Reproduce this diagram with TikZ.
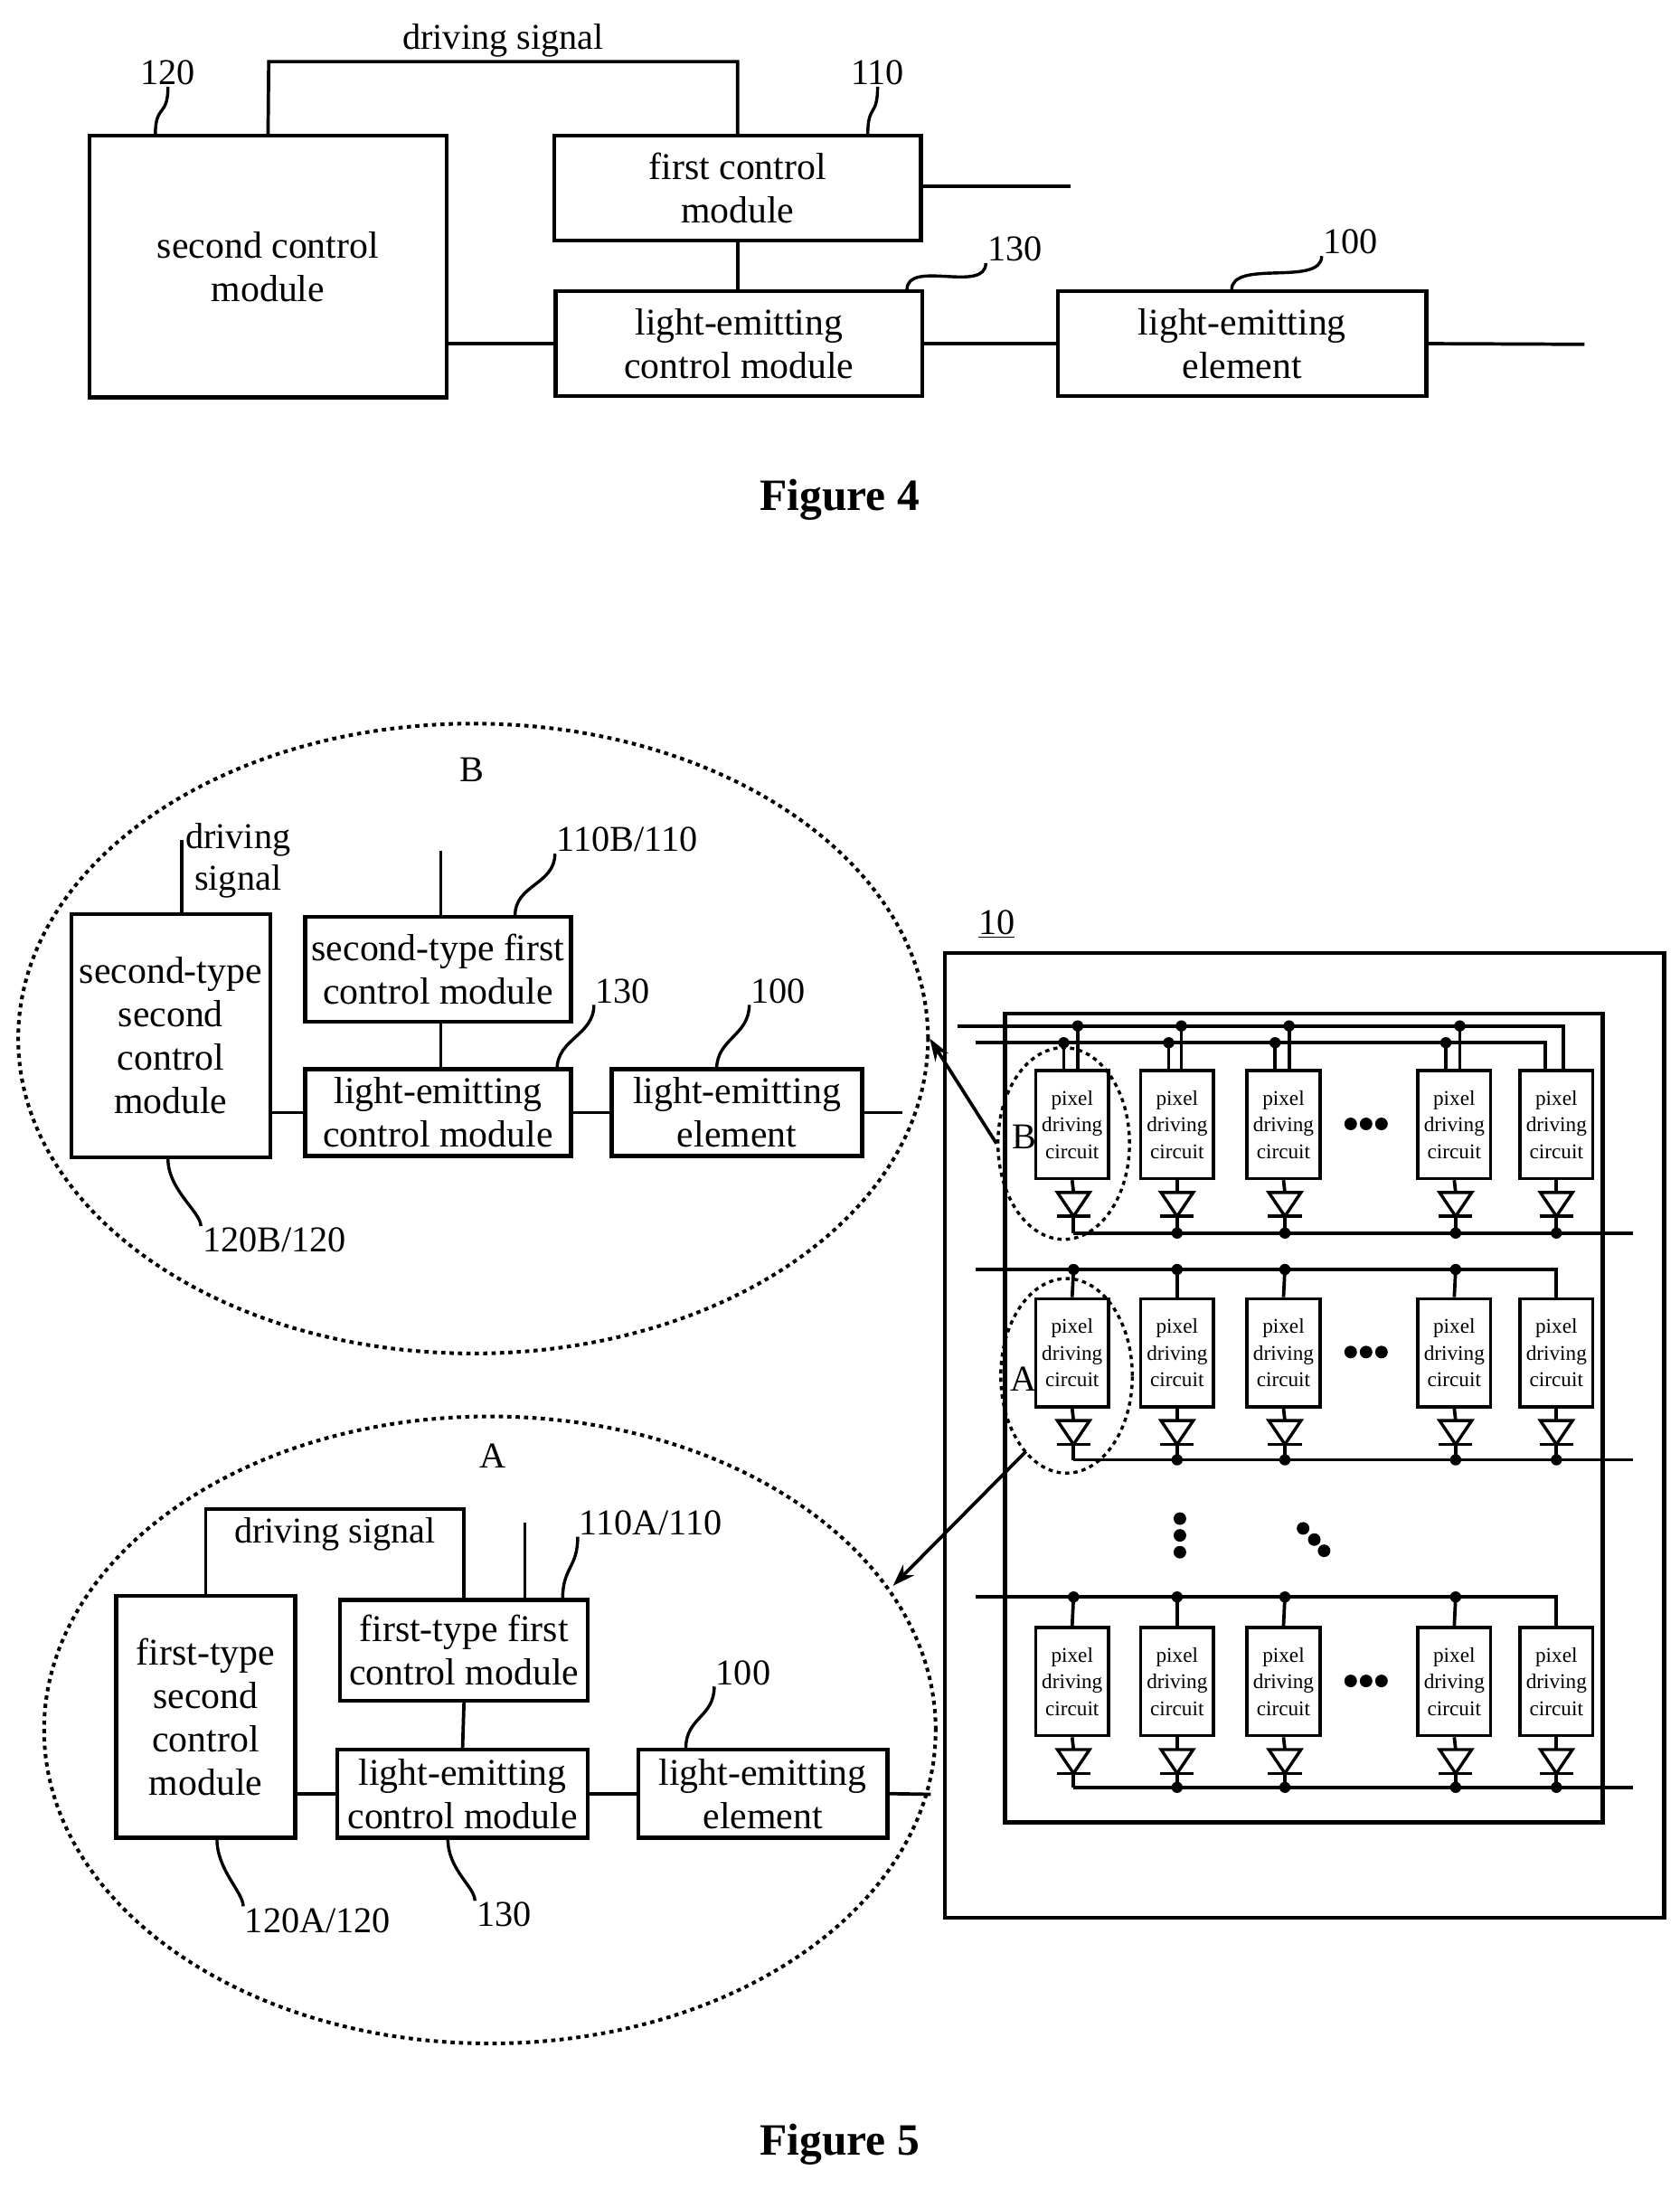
\documentclass[tikz,border=0pt]{standalone}
\usepackage{fontspec}
\setmainfont{Liberation Serif}
\usetikzlibrary{arrows.meta,positioning,shapes.geometric}
\tikzset{
  blk/.style={draw,line width=2.8pt,align=center,inner sep=0pt,font=\fontsize{27}{31}\selectfont},
  pdc/.style={draw,line width=2.4pt,align=center,inner sep=0pt,minimum width=52pt,minimum height=77pt,font=\fontsize{15}{19}\selectfont},
  wire/.style={line width=2.4pt},
  lead/.style={line width=2.2pt},
  tag/.style={font=\fontsize{26}{30}\selectfont,inner sep=1pt},
  zone/.style={draw,line width=2.6pt,dash pattern=on 3pt off 3pt},
  dot/.style={circle,fill,inner sep=0pt,minimum size=8pt},
}
% S-shaped leader from a box corner up to its reference number
\newcommand\leadto[2]{\draw[lead] (#1) .. controls +(0,-22) and +(0,22) .. (#2);}
\newcommand\diodeat[2]{%
  \draw[line width=2.2pt] (#1-11.5,#2) -- (#1+11.5,#2) -- (#1,#2+17) -- cycle;
  \draw[line width=2.2pt] (#1-12,#2+17) -- (#1+12,#2+17);}
\begin{document}
\begin{tikzpicture}[x=1pt,y=-1pt]
\useasboundingbox (0,0) rectangle (1200,1564);

% ---- Figure 4
\node[blk,minimum width=255,minimum height=187] (sc) at (191.5,190.5) {second control\\module};
\node[blk,minimum width=262,minimum height=75] (fc) at (527,134.5) {first control\\module};
\node[blk,minimum width=262,minimum height=75] (lc) at (528,245.5) {light-emitting\\control module};
\node[blk,minimum width=263,minimum height=75] (le) at (887.5,245.5) {light-emitting\\element};
\coordinate (fcout) at (765,133);
\coordinate (leout) at (1132,246);
\draw[wire] (sc.north) -- (192,44) -| node[pos=0.25,above=1pt,tag]{driving signal} (fc.north);
\draw[wire] (fc.east |- fcout) -- (fcout);
\draw[wire] (fc.south) -- (lc.north -| fc.south);
\draw[wire] (sc.east |- lc.west) -- (lc.west);
\draw[wire] (lc.east) -- (le.west);
\draw[wire] (le.east) -- (leout);
\node[tag] (n120) at (120,52) {120};
\node[tag] (n110) at (627,52) {110};
\node[tag] (n130) at (725,178) {130};
\node[tag] (n100) at (965,173) {100};
\leadto{111,96}{n120.south}
\leadto{620,96}{n110.south}
\leadto{648,207}{n130.south west}
\leadto{880,207}{n100.south west}
\node[font=\bfseries\fontsize{32}{36}\selectfont] (f4) at (600,357) {Figure 4};

% ---- Figure 5, detail B
\node[zone,ellipse,minimum width=650,minimum height=450] (eB) at (338,742) {};
\node[tag] (tB) at (337,550) {B};
\node[blk,minimum width=142,minimum height=174] (scB) at (122,740) {second-type\\second\\control\\module};
\node[blk,minimum width=190,minimum height=75] (fcB) at (313,692.5) {second-type first\\control module};
\node[blk,minimum width=190,minimum height=62] (lcB) at (313,795) {light-emitting\\control module};
\node[blk,minimum width=179,minimum height=62] (leB) at (526.5,795) {light-emitting\\element};
\coordinate (dsB) at (130,600);
\coordinate (fcBin) at (315,608);
\coordinate (leBout) at (645,795);
\node[tag,align=center] (dsBt) at (170,615) {driving\\signal};
\draw[wire] (scB.north -| dsB) -- (dsB);
\draw[wire] (fcB.north -| fcBin) -- (fcBin);
\draw[wire] (fcB.south -| fcBin) -- (lcB.north -| fcBin);
\draw[wire] (scB.east |- lcB.west) -- (lcB.west);
\draw[wire] (lcB.east) -- (leB.west);
\draw[wire] (leB.east) -- (leBout);
\node[tag] (n110B) at (448,600) {110B/110};
\node[tag] (n130B) at (445,708) {130};
\node[tag] (n100B) at (556,708) {100};
\node[tag] (n120B) at (196,886) {120B/120};
\leadto{368,654}{n110B.south west}
\leadto{398,764}{n130B.south west}
\leadto{512,764}{n100B.south west}
\draw[lead] (120,828) .. controls +(0,22) and +(0,-10) .. (n120B.north west);

% ---- Figure 5, detail A
\node[zone,ellipse,minimum width=637,minimum height=448] (eA) at (350,1236) {};
\node[tag] (tA) at (352,1040) {A};
\node[blk,minimum width=128,minimum height=173] (scA) at (147,1226.5) {first-type\\second\\control\\module};
\node[blk,minimum width=177,minimum height=72] (fcA) at (331.5,1179) {first-type first\\control module};
\node[blk,minimum width=179,minimum height=63] (lcA) at (330.5,1281.5) {light-emitting\\control module};
\node[blk,minimum width=178,minimum height=63] (leA) at (545,1281.5) {light-emitting\\element};
\coordinate (fcAin) at (375,1088);
\coordinate (leAout) at (665,1282);
\draw[wire] (scA.north) -- (147,1078) -| node[pos=0.25,below=4pt,tag]{driving signal} (fcA.north);
\draw[wire] (fcA.north -| fcAin) -- (fcAin);
\draw[wire] (fcA.south) -- (lcA.north);
\draw[wire] (scA.east |- lcA.west) -- (lcA.west);
\draw[wire] (lcA.east) -- (leA.west);
\draw[wire] (leA.east) -- (leAout);
\node[tag] (n110A) at (465,1088) {110A/110};
\node[tag] (n100A) at (531,1195) {100};
\node[tag] (n130A) at (360,1368) {130};
\node[tag] (n120A) at (227,1372) {120A/120};
\leadto{402,1142}{n110A.south west}
\leadto{490,1249}{n100A.south west}
\draw[lead] (320,1314) .. controls +(0,22) and +(0,-10) .. (n130A.north west);
\draw[lead] (155,1314) .. controls +(0,22) and +(0,-10) .. (n120A.north west);

% ---- display panel 10
\draw[line width=2.8pt] (675,681) rectangle (1189,1370);
\draw[line width=2.8pt] (718,724) rectangle (1145,1302);
\node[tag] (n10) at (712,660) {\underline{10}};
\foreach \c [count=\i] in {766,841,917,1039,1112}{
  \node[pdc] (p1\i) at (\c,803.5) {pixel\\driving\\circuit};
  \node[pdc] (p2\i) at (\c,966.5) {pixel\\driving\\circuit};
  \node[pdc] (p3\i) at (\c,1201.5) {pixel\\driving\\circuit};
}
% row 1 has two scan lines
\draw[wire] (684,733) -| ([xshift=5pt]p15.north);
\draw[wire] (697,745) -| ([xshift=-8pt]p15.north);
\foreach \a/\b in {760/770,835/844,911/921,1033/1043}{
  \node[dot] at (\b,733) {}; \node[dot] at (\a,745) {};
  \draw[wire] (\a,745) -- (\a,765); \draw[wire] (\b,733) -- (\b,765);
}
\draw[wire] (697,907) -| (p25.north);
\draw[wire] (697,1141) -| (p35.north);
\foreach \c [count=\i] in {767,841,918,1040,1112}{
  \ifnum\i<5
    \node[dot] at (\c,907) {}; \node[dot] at (\c,1141) {};
    \draw[wire] (\c,907) -- (p2\i.north); \draw[wire] (\c,1141) -- (p3\i.north);
  \fi
  \ifnum\i>1
    \node[dot] at (\c,881) {}; \node[dot] at (\c,1043) {}; \node[dot] at (\c,1277) {};
  \fi
  \draw[wire] (p1\i.south) -- (\c,852); \diodeat{\c}{852} \draw[wire] (\c,869) -- (\c,881);
  \draw[wire] (p2\i.south) -- (\c,1015); \diodeat{\c}{1015} \draw[wire] (\c,1032) -- (\c,1043);
  \draw[wire] (p3\i.south) -- (\c,1250); \diodeat{\c}{1250} \draw[wire] (\c,1267) -- (\c,1277);
}
\draw[wire] (767,881) -- (1167,881);
\draw[wire] (767,1043) -- (1167,1043);
\draw[wire] (767,1277) -- (1167,1277);
\foreach \y in {803,966,1201}{
  \foreach \x in {965,976,987} \node[dot,minimum size=9pt] at (\x,\y) {};
}
\foreach \y in {1085,1097,1109} \node[dot,minimum size=9pt] at (843,\y) {};
\foreach \x/\y in {931/1092,939/1100,946/1108} \node[dot,minimum size=9pt] at (\x,\y) {};
% zoom markers
\node[zone,ellipse,line width=2.2pt,minimum width=94,minimum height=137] (zB) at (760,817) {};
\node[zone,ellipse,line width=2.2pt,minimum width=94,minimum height=139] (zA) at (762,983) {};
\node[tag] (tzB) at (732,812) {B};
\node[tag] (tzA) at (731,985) {A};
\draw[line width=2.4pt,-{Stealth[length=16pt,width=11pt]}] (zB.west) -- (eB.east);
\draw[line width=2.4pt,-{Stealth[length=16pt,width=11pt]}] (733,1037) -- (638,1133);
\node[font=\bfseries\fontsize{32}{36}\selectfont] (f5) at (600,1532) {Figure 5};
\end{tikzpicture}
\end{document}
